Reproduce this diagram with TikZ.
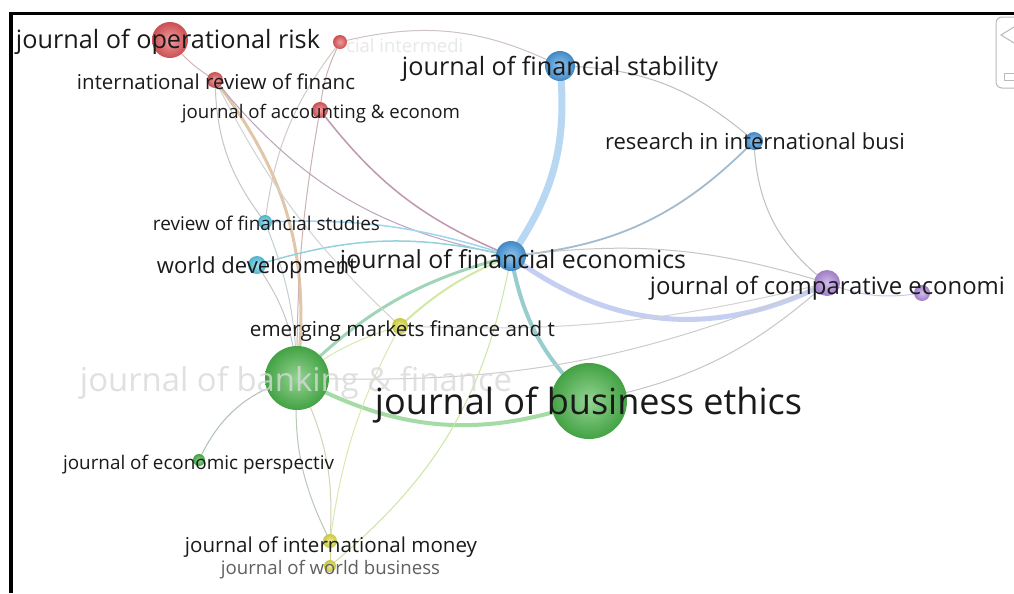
\documentclass[tikz,border=0pt]{standalone}
\usepackage{fontspec}
\setmainfont{Open Sans}
\usepackage{graphicx}
\usetikzlibrary{backgrounds}
\newlength\px \setlength\px{0.75pt}
\newcommand{\fitlbl}[2]{\resizebox{#1\px}{!}{#2}}
\definecolor{txt}{HTML}{1A1A1A}
\definecolor{cred}{HTML}{E65A5E}
\definecolor{cblue}{HTML}{4A9CE0}
\definecolor{ccyan}{HTML}{5CCCE6}
\definecolor{cpurp}{HTML}{B48EE0}
\definecolor{cyell}{HTML}{E2E24A}
\definecolor{cgreen}{HTML}{4CB84C}
\tikzset{
  ball/.style 2 args={circle, inner sep=0pt, minimum size=#1\px, inner color=#2!60!white, outer color=#2!88!black},
  lab/.style={anchor=base, inner sep=0pt, text=txt},
  ed/.style={line width=1\px, draw=#1},
}
\begin{document}
\begin{tikzpicture}[x=0.75pt,y=-0.75pt]
\useasboundingbox (0,0) rectangle (1014,593);

% nodes
\node[ball={36}{cred}] (oprisk) at (170,40) {};
\node[ball={14}{cred}] (sred) at (340,42) {};
\node[ball={16}{cred}] (intrev) at (215,80) {};
\node[ball={16}{cred}] (acct) at (320,110) {};
\node[ball={30}{cblue}] (fstab) at (560,66) {};
\node[ball={18}{cblue}] (resint) at (754,141) {};
\node[ball={14}{ccyan}] (revfs) at (265,222) {};
\node[ball={18}{ccyan}] (wdev) at (257,265) {};
\node[ball={30}{cblue}] (fecon) at (511,256) {};
\node[ball={26}{cpurp}] (comp) at (827,283) {};
\node[ball={16}{cpurp}] (spurp) at (922,293) {};
\node[ball={16}{cyell}] (emerg) at (400,326) {};
\node[ball={64}{cgreen}] (bank) at (297,378) {};
\node[ball={76}{cgreen}] (bizeth) at (589,401) {};
\node[ball={12}{cgreen}] (econp) at (199,460) {};
\node[ball={14}{cyell}] (intmon) at (330,541) {};
\node[ball={12}{cyell}] (wbiz) at (330,566) {};

% edges
\begin{scope}[on background layer]
\fill[white] (0,0) rectangle (1014,593);
\draw[ed={cblue!40!white}, line width=7\px] (fstab.center) to[bend left=20] (fecon.center);
\draw[ed={cpurp!50!cblue!45!white}, line width=5\px] (fecon.center) to[bend right=32] (comp.center);
\draw[ed={teal!40!white}, line width=4\px] (fecon.center) to[bend right=18] (bizeth.center);
\draw[ed={cgreen!50!white}, line width=4\px] (bank.center) to[bend right=24] (bizeth.center);
\draw[ed={teal!40!cgreen!45!white}, line width=3\px] (bank.center) to[bend left=15] (fecon.center);
\draw[ed={gray!50}] (fstab.center) to[bend left=20] (resint.center);
\draw[ed={cblue!50!gray!60}, line width=1.8\px] (resint.center) to[bend left=20] (fecon.center);
\draw[ed={gray!50}] (resint.center) to[bend right=25] (comp.center);
\draw[ed={cpurp!55}] (comp.center) to[bend right=15] (spurp.center);
\draw[ed={gray!45}] (comp.center) to[bend left=15] (bizeth.center);
\draw[ed={gray!40}] (comp.center) to[bend left=12] (bank.center);
\draw[ed={gray!45}] (fecon.center) to[bend left=12] (comp.center);
\draw[ed={cred!40!gray!50}] (oprisk.center) to[bend right=10] (intrev.center);
\draw[ed={cred!20!gray!45}] (sred.center) to[bend left=20] (fstab.center);
\draw[ed={cred!40!gray!55}] (sred.center) to[bend right=10] (acct.center);
\draw[ed={cred!20!gray!40}] (sred.center) to[bend right=15] (revfs.center);
\draw[ed={brown!45!white}, line width=3\px] (intrev.center) to[bend left=22] (bank.center);
\draw[ed={cred!40!gray!55}] (acct.center) to[bend right=5] (bank.center);
\draw[ed={cred!40!violet!50!gray!60}, line width=1.5\px] (acct.center) to[bend right=15] (fecon.center);
\draw[ed={violet!30!gray!55}] (intrev.center) to[bend right=20] (fecon.center);
\draw[ed={gray!45}] (intrev.center) to[bend right=18] (revfs.center);
\draw[ed={ccyan!50!cblue!55}, line width=1.5\px] (revfs.center) to[bend left=10] (fecon.center);
\draw[ed={ccyan!60!teal!55}, line width=1.5\px] (wdev.center) to[bend left=15] (fecon.center);
\draw[ed={gray!45}] (wdev.center) to[bend left=15] (bank.center);
\draw[ed={ccyan!30!gray!45}] (revfs.center) to[bend left=10] (bank.center);
\draw[ed={cyell!60!cgreen!50}, line width=2\px] (emerg.center) to[bend left=10] (fecon.center);
\draw[ed={cyell!60!cgreen!45}] (emerg.center) to[bend right=10] (bank.center);
\draw[ed={cgreen!30!gray!55}] (bank.center) to[bend right=25] (econp.center);
\draw[ed={cgreen!30!gray!50}] (bank.center) to[bend right=15] (intmon.center);
\draw[ed={cyell!40!gray!50}] (bank.center) to[bend left=15] (intmon.center);
\draw[ed={cyell!70!black!50}] (intmon.center) -- (wbiz.center);
\draw[ed={cyell!50!cgreen!50}] (wbiz.center) to[bend right=20] (fecon.center);
\draw[ed={cyell!60!cgreen!45}] (emerg.center) to[bend right=10] (intmon.center);
\draw[ed={gray!35}] (intrev.center) to[bend right=10] (emerg.center);
\draw[ed={gray!35}] (emerg.center) to[bend right=8] (comp.center);
\end{scope}

% frame
\draw[line width=3\px] (9,13.5) -- (1014,13.5);
\draw[line width=3.5\px] (11,12) -- (11,593);
% side widget
\draw[gray!55, line width=1\px, rounded corners=6\px] (1016,17) -- (996,17) -- (996,88) -- (1016,88);
\draw[gray!55, line width=1\px] (1014,27) -- (1001,35) -- (1014,43);
\draw[gray!55, line width=1\px] (1016,73) -- (1004,73) -- (1004,80) -- (1016,80);

% labels
\node[lab] (l-oprisk) at (168,48) {\fitlbl{304}{journal of operational risk}};
\node[lab, anchor=base west, text=gray!18] (l-sred) at (346,52) {\fitlbl{117}{cial intermedi}};
\node[lab] (l-intrev) at (216,89) {\fitlbl{278}{international review of financ}};
\node[lab] (l-acct) at (321,118) {\fitlbl{278}{journal of accounting \& econom}};
\node[lab] (l-fstab) at (560,75) {\fitlbl{316}{journal of financial stability}};
\node[lab] (l-resint) at (755,149) {\fitlbl{300}{research in international busi}};
\node[lab] (l-revfs) at (266.5,230) {\fitlbl{227}{review of financial studies}};
\node[lab] (l-wdev) at (257,273) {\fitlbl{200}{world development}};
\node[lab] (l-fecon) at (513,268) {\fitlbl{346}{journal of financial economics}};
\node[lab] (l-comp) at (827.5,294) {\fitlbl{355}{journal of comparative economi}};
\node[lab] (l-emerg) at (402.5,336) {\fitlbl{305}{emerging markets finance and t}};
\node[lab, text=gray!30, opacity=0.8] (l-bank) at (296,391) {\fitlbl{432}{journal of banking \& finance}};
\node[lab] (l-bizeth) at (588.5,414) {\fitlbl{427}{journal of business ethics}};
\node[lab] (l-econp) at (198.5,469) {\fitlbl{271}{journal of economic perspectiv}};
\node[lab] (l-intmon) at (331,552) {\fitlbl{292}{journal of international money}};
\node[lab, text=gray!75!black] (l-wbiz) at (330.5,574) {\fitlbl{219}{journal of world business}};
\end{tikzpicture}
\end{document}
